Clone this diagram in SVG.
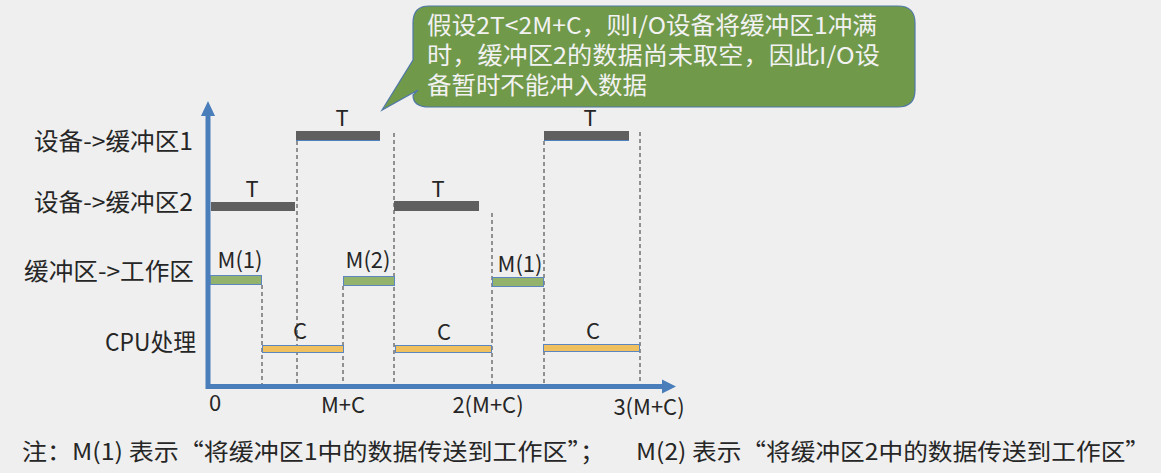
<svg xmlns="http://www.w3.org/2000/svg" width="1161" height="473" viewBox="0 0 1161 473">
<style>
text{font-family:"Noto Sans CJK SC","Noto Sans",sans-serif;fill:#262626}
.lab{font-size:24px;text-anchor:end}
.bl{font-size:22px;text-anchor:middle}
.ax{font-size:22px;text-anchor:middle}
.co{font-size:23.5px;fill:#f2f2f2}
.note{font-size:23px}
.g{fill:#5f5f5f}
.gb{stroke:#4f7fbf;stroke-width:1.2}
.m{fill:#93b26c;stroke:#5b86c0;stroke-width:1}
.c{fill:#f0c05e;stroke:#5b86c0;stroke-width:1}
.d{stroke:#333;stroke-width:1;stroke-dasharray:4 3;fill:none}
</style>
<rect width="1161" height="473" fill="#efefef"/>

<g id="callout">
<path d="M429,6 H898 Q915,6 915,23 V90 Q915,107 898,107 H429 Q413,107 413,95 L418,90 L382,110 L413,60 V23 Q413,6 429,6 Z" fill="#70994a" stroke="#4f78a8" stroke-width="1.2"/>
<text class="co" x="427" y="34" textLength="450" lengthAdjust="spacingAndGlyphs">假设2T&lt;2M+C，则I/O设备将缓冲区1冲满</text>
<text class="co" x="427" y="64" textLength="453" lengthAdjust="spacingAndGlyphs">时，缓冲区2的数据尚未取空，因此I/O设</text>
<text class="co" x="427" y="94" textLength="220" lengthAdjust="spacingAndGlyphs">备暂时不能冲入数据</text>
</g>

<g id="row-labels">
<text class="lab" x="193" y="150" textLength="159" lengthAdjust="spacingAndGlyphs">设备-&gt;缓冲区1</text>
<text class="lab" x="193" y="211" textLength="159" lengthAdjust="spacingAndGlyphs">设备-&gt;缓冲区2</text>
<text class="lab" x="194" y="280" textLength="170" lengthAdjust="spacingAndGlyphs">缓冲区-&gt;工作区</text>
<text class="lab" x="196" y="351" textLength="91" lengthAdjust="spacingAndGlyphs">CPU处理</text>
</g>

<g id="guides">
<line class="d" x1="262" y1="285" x2="262" y2="385"/>
<line class="d" x1="297" y1="141" x2="297" y2="385"/>
<line class="d" x1="343" y1="286" x2="343" y2="385"/>
<line class="d" x1="394" y1="133" x2="394" y2="385"/>
<line class="d" x1="492" y1="213" x2="492" y2="385"/>
<line class="d" x1="544" y1="141" x2="544" y2="385"/>
<line class="d" x1="640" y1="132" x2="640" y2="385"/>
</g>

<g id="axes">
<line x1="208" y1="114" x2="208" y2="389" stroke="#4a7ebb" stroke-width="5"/>
<polygon points="208,101 201,116 215,116" fill="#4a7ebb"/>
<line x1="206" y1="386.5" x2="664" y2="386.5" stroke="#4a7ebb" stroke-width="5"/>
<polygon points="676,386.5 662,379.5 662,393.5" fill="#4a7ebb"/>
<text class="ax" x="215" y="411">0</text>
<text class="ax" x="343" y="413">M+C</text>
<text class="ax" x="488" y="413">2(M+C)</text>
<text class="ax" x="649" y="415">3(M+C)</text>
</g>

<g id="row1">
<rect class="g" x="296" y="131" width="84" height="10"/>
<line class="gb" x1="296" y1="140.5" x2="380" y2="140.5"/>
<text class="bl" x="342" y="126">T</text>
<rect class="g" x="544" y="131" width="85" height="10"/>
<line class="gb" x1="544" y1="140.5" x2="629" y2="140.5"/>
<text class="bl" x="590" y="126">T</text>
</g>

<g id="row2">
<rect class="g" x="211" y="202" width="84" height="9"/>
<text class="bl" x="252" y="197">T</text>
<rect class="g" x="394" y="201" width="85" height="10"/>
<text class="bl" x="438" y="197">T</text>
</g>

<g id="row3">
<rect class="m" x="210.5" y="275.5" width="51" height="9"/>
<text class="bl" x="240" y="268">M(1)</text>
<rect class="m" x="343.5" y="276.5" width="51" height="9"/>
<text class="bl" x="368" y="268">M(2)</text>
<rect class="m" x="492.5" y="277.5" width="51" height="9"/>
<text class="bl" x="520" y="272">M(1)</text>
</g>

<g id="row4">
<rect class="c" x="262.5" y="345.5" width="81" height="7"/>
<text class="bl" x="300" y="339">C</text>
<rect class="c" x="395.5" y="345.5" width="96" height="7"/>
<text class="bl" x="444" y="340">C</text>
<rect class="c" x="543.5" y="344.5" width="96" height="7"/>
<text class="bl" x="593" y="339">C</text>
</g>

<g id="note">
<text class="note" x="22" y="460" textLength="583" lengthAdjust="spacingAndGlyphs">注：M(1) 表示“将缓冲区1中的数据传送到工作区”；</text>
<text class="note" x="636" y="460" textLength="514" lengthAdjust="spacingAndGlyphs">M(2) 表示“将缓冲区2中的数据传送到工作区”</text>
</g>
</svg>
